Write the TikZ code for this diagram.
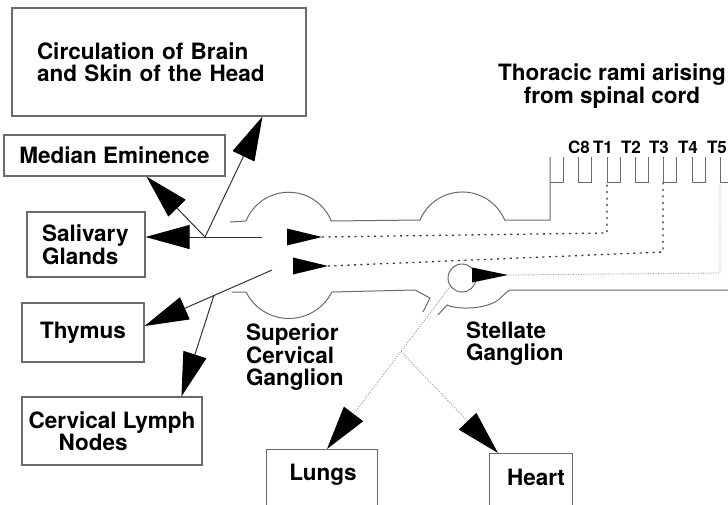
\documentclass[tikz,border=0pt]{standalone}
\usepackage{fontspec}
\setmainfont{TeX Gyre Heros}
\usetikzlibrary{arrows.meta,calc}
\definecolor{boxc}{HTML}{6A6A6A}
\definecolor{linec}{HTML}{333333}
\definecolor{outc}{HTML}{6A6A6A}
\definecolor{finec}{HTML}{9A9A9A}
\begin{document}
\begin{tikzpicture}[x=1pt,y=-1pt,
  lbl/.style={font=\fontsize{22.5}{21.5}\selectfont\bfseries, inner sep=0pt},
  small/.style={font=\fontsize{17}{17}\selectfont\bfseries, inner sep=0pt},
  box/.style={draw=boxc, line width=1.1pt, rectangle, inner sep=0pt},
  conn/.style={draw=linec, line width=1pt},
  outl/.style={draw=outc, line width=1pt},
  coarse/.style={draw=linec, line width=1.3pt, dash pattern=on 2pt off 4.5pt},
  fine/.style={draw=finec, line width=0.9pt, dash pattern=on 1pt off 1.5pt},
  bigtip/.tip={Triangle[length=44pt,width=24pt,color=black]},
  smallhead/.style={fill=black}
]
\useasboundingbox (0,0) rectangle (728,504);
\clip (0,0) rectangle (728,504);

% boxes
\node[box,lbl,minimum width=294pt,minimum height=108pt,text width=244pt,align=left] (circ) at (159,62) {Circulation of Brain\\and Skin of the Head};
\node[box,lbl,minimum width=221pt,minimum height=41pt] (median) at (114.5,155.5) {Median Eminence};
\node[box,lbl,minimum width=118pt,minimum height=65pt,text width=88pt,align=left] (saliv) at (86,244.5) {Salivary\\Glands};
\node[box,lbl,minimum width=122pt,minimum height=59pt] (thymus) at (83,332.5) {Thymus};
\node[box,lbl,minimum width=180pt,minimum height=68pt,align=left] (lymph) at (112,431) {Cervical Lymph\\\hspace*{30pt}Nodes};
\node[box,minimum width=111pt,minimum height=100pt,anchor=north west] (lungs) at (266,449) {};
\node[lbl,anchor=base] (lungst) at (323,480) {Lungs};
\node[box,minimum width=83pt,minimum height=100pt,anchor=north west] (heart) at (489,453) {};
\node[lbl,anchor=base] (heartt) at (536,485) {Heart};

% labels
\node[lbl,align=left,anchor=north west] (scg) at (246,324) {Superior\\Cervical\\Ganglion};
\node[lbl,align=left,anchor=north west] (stg) at (466,322) {Stellate\\Ganglion};
\node[lbl,align=center,anchor=north] (thor) at (612,64) {Thoracic rami arising\\from spinal cord};
\node[small,anchor=base] (c8) at (579,153) {C8};
\node[small,anchor=base] (t1) at (603,153) {T1};
\node[small,anchor=base] (t2) at (631,153) {T2};
\node[small,anchor=base] (t3) at (659,153) {T3};
\node[small,anchor=base] (t4) at (688,153) {T4};
\node[small,anchor=base] (t5) at (717,153) {T5};

% ganglion chain outline
\draw[outl] (230,222) -- (246,221) arc[start angle=158, end angle=22, radius=46pt]
  -- (420,220) arc[start angle=157, end angle=23, radius=46pt] -- (550,220) -- (550,157);
\draw[outl] (550,182) -- (563,182) -- (563,157);
\foreach \u in {578,607,635,663,692,720}
  \draw[outl] (\u,157) -- (\u,182) -- ++(13,0) -- ++(0,-25);
\draw[outl] (232,292) -- (246,292) arc[start angle=206.6, end angle=333.4, radius=48pt]
  -- (415,290) -- (430,298) -- (423,312);
\draw[outl] (438,315) -- (447,305) .. controls (455,309) and (480,310) .. (495,302)
  .. controls (502,298) and (505,292) .. (510,290) -- (728,290);
\node[draw=outc,line width=1pt,circle,minimum size=28pt,inner sep=0pt] (stc) at (462,278) {};

% rami (dotted, with arrowheads)
\coordinate (a1) at (322,237);
\coordinate (a2) at (328,266);
\coordinate (a3) at (508,275);
\draw[coarse] (a1) -- (607,233) -- (607,182);
\draw[coarse] (a2) -- (663,252) -- (663,182);
\draw[fine] (a3) -- (720,273) -- (720,182);
\fill[smallhead] (a1) -- ++(-35,-8.5) -- ++(0,17) -- cycle;
\fill[smallhead] (a2) -- ++(-35,-8.5) -- ++(0,17) -- cycle;
\fill[smallhead] (a3) -- ++(-36,-7.5) -- ++(0,15) -- cycle;

% efferents of superior cervical ganglion
\coordinate (J1) at (205,237);
\coordinate (G1) at (262,237);
\draw[conn] (G1) -- (J1);
\draw[conn,-bigtip] (J1) -- (J1 -| saliv.east);
\draw[conn,-bigtip] (J1) -- ($(median.south west)+(143,0)$);
\draw[conn,-bigtip] (J1) -- ($(circ.south west)+(251,0)$);
\coordinate (S2) at (272,270);
\coordinate (thytip) at ($(thymus.east)+(0,-6.5)$);
\coordinate (J2) at ($(S2)!0.456!(thytip)$);
\draw[conn,-bigtip] (S2) -- (thytip);
\draw[conn,-bigtip] (J2) -- ($(lymph.north west)+(160,0)$);

% efferents of stellate ganglion
\coordinate (S3) at (stc.215);
\coordinate (lungtip) at ($(lungs.north west)+(61,0)$);
\coordinate (J3) at ($(S3)!0.4!(lungtip)$);
\draw[fine,-bigtip] (S3) -- (lungtip);
\draw[fine,-bigtip] (J3) -- ($(heart.north west)+(9,0)$);
\end{tikzpicture}
\end{document}
